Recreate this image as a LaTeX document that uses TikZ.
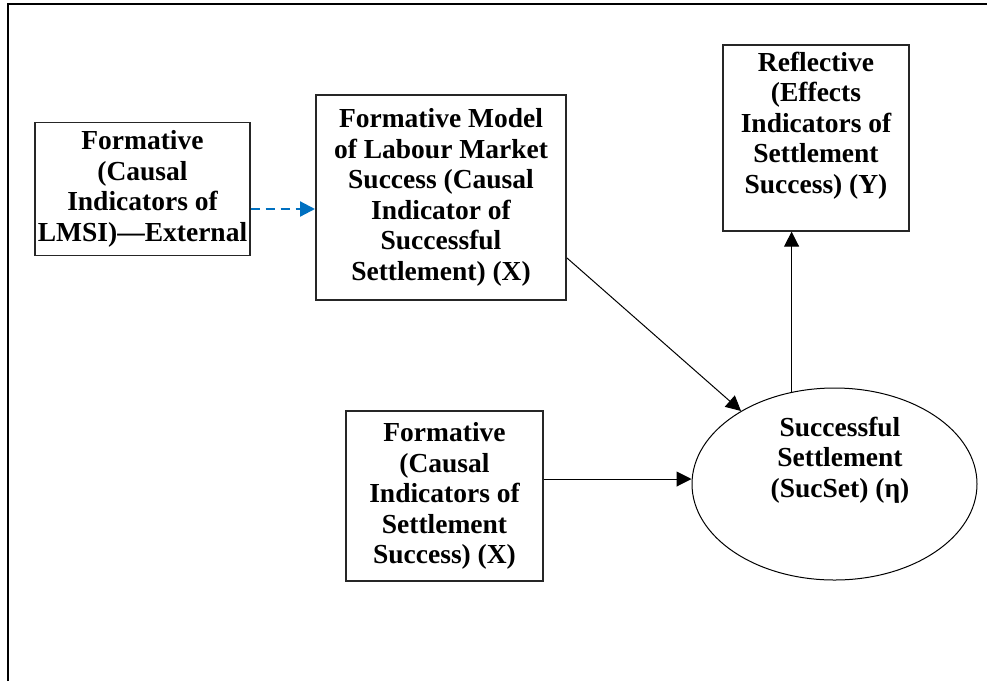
\documentclass[tikz,border=0pt]{standalone}
\usepackage{fontspec}
\setmainfont{Liberation Serif}
\usetikzlibrary{arrows.meta,shapes.geometric,calc}
\definecolor{arrowblue}{RGB}{0,112,192}
\tikzset{
  lbl/.style={font=\bfseries\fontsize{27.5}{30.5}\selectfont, align=center},
  boxnode/.style={draw=black!85, line width=1.3pt, inner sep=0pt, lbl},
  conn/.style={line width=1pt, -{Triangle[length=15pt,width=15pt]}},
  dconn/.style={line width=2.2pt, arrowblue, dash pattern=on 9pt off 6pt, -{Triangle[length=15pt,width=15pt]}},
}
\begin{document}
\begin{tikzpicture}[x=1pt,y=-1pt]
\useasboundingbox (0,0) rectangle (987,681);
\draw[line width=2pt] (8,681) -- (8,3.5) -- (987,3.5);

\node[boxnode, minimum width=215, minimum height=133] (A) at (142.5,189)
  {Formative\\(Causal\\Indicators of\\LMSI)—External};
\node[boxnode, line width=2pt, minimum width=250, minimum height=205] (B) at (441,197.5)
  {Formative Model\\of Labour Market\\Success (Causal\\Indicator of\\Successful\\Settlement) (X)};
\node[boxnode, minimum width=186, minimum height=186] (C) at (816,138)
  {\parbox[c][186pt][t]{186pt}{\centering\vspace*{7pt}Reflective\\(Effects\\Indicators of\\Settlement\\Success) (Y)}};
\node[boxnode, minimum width=197, minimum height=170] (D) at (444.5,496)
  {Formative\\(Causal\\Indicators of\\Settlement\\Success) (X)};
\node[draw, ellipse, line width=1pt, minimum width=285, minimum height=192, inner sep=0pt] (E) at (834.5,484) {};
\node[lbl] (Et) at (840,460) {Successful\\Settlement\\(SucSet) (η)};

\coordinate (a1) at ($(A.east)+(0,20)$);
\draw[dconn] (a1) -- (a1 -| B.west);
\coordinate (b1) at ($(B.south east)+(0,-43)$);
\draw[conn] (b1) -- (E.142);
\coordinate (d1) at ($(D.east)+(0,-17)$);
\draw[conn] (d1) -- (d1 -| E.west);
\draw[conn] (E.115) -- (E.115 |- C.south);
\end{tikzpicture}
\end{document}
